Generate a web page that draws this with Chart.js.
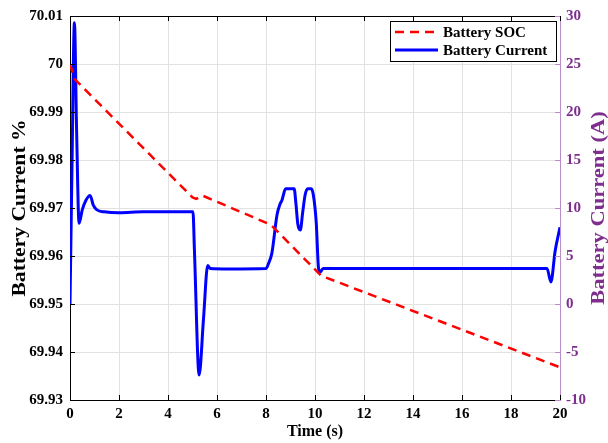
<!DOCTYPE html>
<html>
<head>
<meta charset="utf-8">
<script src="https://cdn.jsdelivr.net/npm/chart.js@4.4.1/dist/chart.umd.min.js"></script>
<style>
  html, body { margin: 0; padding: 0; background: #fff; }
  canvas { display: block; }
</style>
</head>
<body>
<canvas id="socChart" width="608" height="443"></canvas>
<script>
// Axis ticks
const timeTicks = [0, 2, 4, 6, 8, 10, 12, 14, 16, 18, 20];
const socTicks = [69.93, 69.94, 69.95, 69.96, 69.97, 69.98, 69.99, 70, 70.01];
const currentTicks = [-10, -5, 0, 5, 10, 15, 20, 25, 30];

// Battery SOC (%)
const socTime  = [0, 0.1, 0.2, 5.0, 5.15, 5.4, 8.2, 10.25, 20];
const socValue = [70.0, 69.9982, 69.9968, 69.9722, 69.9719, 69.9726, 69.9665, 69.9559, 69.9368];

// Battery current (A)
const currentTime = [0, 0.08, 0.18, 0.27, 0.37, 0.5, 0.65, 0.82, 0.95, 1.1, 1.4, 2.0, 3.0, 4.0,
  5.02, 5.08, 5.27, 5.45, 5.62, 5.72, 6.5, 8.0, 8.1, 8.24, 8.45, 8.57, 8.65, 8.8, 9.15, 9.22,
  9.3, 9.4, 9.5, 9.6, 9.7, 9.85, 9.93, 10.05, 10.14, 10.2, 10.33, 12, 14, 16, 18, 19.47, 19.63, 19.8, 20];
const currentValue = [0, 14, 29.3, 18, 8.4, 9.8, 10.8, 11.3, 10.3, 9.8, 9.6, 9.5, 9.6, 9.6,
  9.6, 5.5, -7.4, -1.5, 4.0, 3.7, 3.65, 3.7, 4.2, 5.3, 9.3, 10.4, 10.8, 12.0, 12.0, 10.5,
  8.3, 7.7, 9.6, 11.4, 12.0, 12.0, 11.4, 8.5, 3.8, 3.3, 3.7, 3.7, 3.7, 3.7, 3.7, 3.7, 2.3, 5.5, 8];

const FONT = "'Liberation Serif', 'Times New Roman', serif";
const PURPLE = '#7e2f8e';
const LAVENDER = '#b98ccb';

const tickFont = { family: FONT, size: 15, weight: 'bold' };

// frame, inward ticks, rotated titles and legend box
const extras = {
  id: 'extras',
  afterDraw(chart) {
    const { ctx, chartArea: a, scales } = chart;
    ctx.save();

    // top border
    ctx.strokeStyle = '#000';
    ctx.lineWidth = 1;
    ctx.beginPath();
    ctx.moveTo(a.left, a.top + 0.5);
    ctx.lineTo(a.right, a.top + 0.5);
    ctx.stroke();

    // inward tick marks
    const tl = 5;
    ctx.beginPath();
    timeTicks.forEach(v => {
      const x = Math.round(scales.x.getPixelForValue(v)) + 0.5;
      ctx.moveTo(x, a.bottom); ctx.lineTo(x, a.bottom - tl);
      ctx.moveTo(x, a.top); ctx.lineTo(x, a.top + tl);
    });
    socTicks.forEach(v => {
      const y = Math.round(scales.y.getPixelForValue(v)) + 0.5;
      ctx.moveTo(a.left, y); ctx.lineTo(a.left + tl, y);
    });
    ctx.stroke();
    ctx.strokeStyle = LAVENDER;
    ctx.beginPath();
    currentTicks.forEach(v => {
      const y = Math.round(scales.y1.getPixelForValue(v)) + 0.5;
      ctx.moveTo(a.right, y); ctx.lineTo(a.right - tl, y);
    });
    ctx.stroke();

    // axis titles
    ctx.font = `bold 16px ${FONT}`;
    ctx.textAlign = 'center';
    ctx.textBaseline = 'middle';
    ctx.fillStyle = '#000';
    ctx.fillText('Time (s)', (a.left + a.right) / 2, 432);

    const midY = (a.top + a.bottom) / 2;
    ctx.font = `bold 18px ${FONT}`;
    ctx.save();
    ctx.translate(20, midY);
    ctx.rotate(-Math.PI / 2);
    ctx.scale(1.2, 1);
    ctx.fillText('Battery Current %', 0, 0);
    ctx.restore();

    ctx.save();
    ctx.fillStyle = PURPLE;
    ctx.translate(599, midY);
    ctx.rotate(-Math.PI / 2);
    ctx.scale(1.25, 1);
    ctx.fillText('Battery Current (A)', 0, 0);
    ctx.restore();

    // legend
    const bx = 390, by = 21, bw = 166, bh = 40;
    ctx.fillStyle = '#fff';
    ctx.fillRect(bx, by, bw, bh);
    ctx.strokeStyle = '#000';
    ctx.lineWidth = 1;
    ctx.strokeRect(bx + 0.5, by + 0.5, bw, bh);
    ctx.font = `bold 15px ${FONT}`;
    ctx.textAlign = 'left';
    chart.data.datasets.forEach((ds, i) => {
      const y = by + 11 + i * 18;
      ctx.strokeStyle = ds.borderColor;
      ctx.lineWidth = ds.borderWidth;
      ctx.setLineDash(ds.borderDash || []);
      ctx.beginPath();
      ctx.moveTo(bx + 5, y);
      ctx.lineTo(bx + 48, y);
      ctx.stroke();
      ctx.setLineDash([]);
      ctx.fillStyle = '#000';
      ctx.fillText(ds.label, bx + 53, y + 1);
    });

    ctx.restore();
  }
};

new Chart(document.getElementById('socChart'), {
  type: 'line',
  data: {
    datasets: [
      {
        label: 'Battery SOC',
        data: socTime.map((t, i) => ({ x: t, y: socValue[i] })),
        yAxisID: 'y',
        borderColor: '#ff0000',
        borderWidth: 2.5,
        borderDash: [9, 6],
        pointRadius: 0,
        tension: 0
      },
      {
        label: 'Battery Current',
        data: currentTime.map((t, i) => ({ x: t, y: currentValue[i] })),
        yAxisID: 'y1',
        borderColor: '#0000ff',
        borderWidth: 3,
        pointRadius: 0,
        cubicInterpolationMode: 'monotone'
      }
    ]
  },
  options: {
    responsive: false,
    animation: false,
    layout: { padding: { top: 13, left: 0, right: 0, bottom: 0 } },
    plugins: { legend: { display: false }, tooltip: { enabled: false } },
    scales: {
      x: {
        type: 'linear',
        min: 0,
        max: 20,
        afterBuildTicks: s => { s.ticks = timeTicks.map(v => ({ value: v })); },
        afterFit: s => { s.height = 43; },
        ticks: { font: tickFont, color: '#000', padding: 5, maxRotation: 0, autoSkip: false },
        grid: { color: '#e2e2e2', drawTicks: false },
        border: { color: '#000' }
      },
      y: {
        position: 'left',
        min: 69.93,
        max: 70.01,
        afterBuildTicks: s => { s.ticks = socTicks.map(v => ({ value: v })); },
        afterFit: s => { s.width = 70; },
        ticks: { font: tickFont, color: '#000', padding: 7, callback: v => String(+v.toFixed(2)) },
        grid: { color: '#e2e2e2', drawTicks: false },
        border: { color: '#000' }
      },
      y1: {
        position: 'right',
        min: -10,
        max: 30,
        afterBuildTicks: s => { s.ticks = currentTicks.map(v => ({ value: v })); },
        afterFit: s => { s.width = 48; },
        ticks: { font: tickFont, color: PURPLE, padding: 6 },
        grid: { drawOnChartArea: false, drawTicks: false },
        border: { color: LAVENDER }
      }
    }
  },
  plugins: [extras]
});
</script>
</body>
</html>
